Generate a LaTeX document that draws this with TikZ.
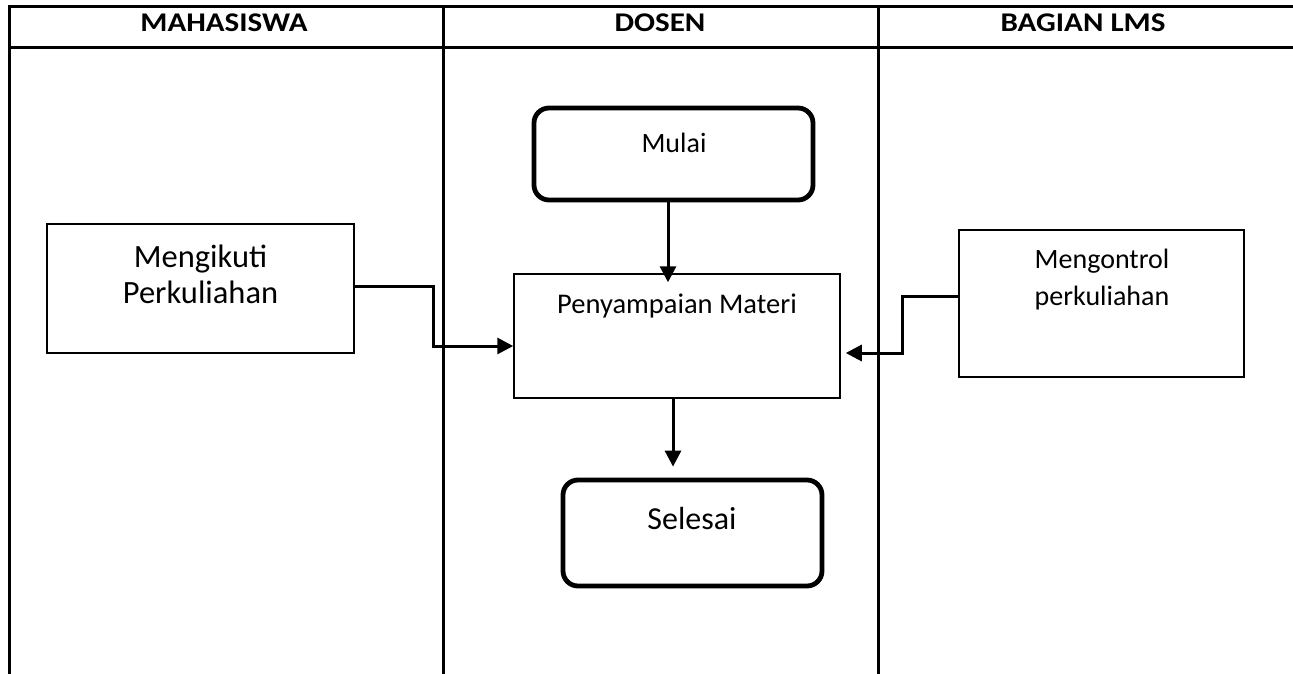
\documentclass[tikz,border=0pt]{standalone}
\usepackage{fontspec}
\setmainfont{Carlito}
\newfontfamily\hdrfont{Carlito}[FakeStretch=1.15]
\usetikzlibrary{arrows.meta}
\begin{document}
\begin{tikzpicture}[x=1pt,y=-1pt,
  grid/.style={line width=3pt, line cap=rect},
  plainbox/.style={draw, line width=1.5pt, inner sep=0pt},
  roundbox/.style={draw, line width=4.8pt, rounded corners=15pt, inner sep=0pt},
  hdr/.style={font=\hdrfont\fontsize{27}{30}\selectfont\bfseries, inner sep=0pt, anchor=base},
  txt/.style={inner sep=0pt, anchor=base, align=center},
  arr/.style={line width=3pt, -{Triangle[length=16pt,width=16pt]}}]
\useasboundingbox (0,0) rectangle (1293,674);
% table grid
\coordinate (tl) at (9.5,6.5);
\coordinate (tr) at (1295,6.5);
\coordinate (hl) at (9.5,47.5);
\coordinate (hr) at (1295,47.5);
\coordinate (bl) at (9.5,676);
\coordinate (c1t) at (443.5,6.5);
\coordinate (c1b) at (443.5,676);
\coordinate (c2t) at (878.5,6.5);
\coordinate (c2b) at (878.5,676);
\draw[grid] (tl) -- (tr);
\draw[grid] (hl) -- (hr);
\draw[grid] (tl) -- (bl);
\draw[grid] (c1t) -- (c1b);
\draw[grid] (c2t) -- (c2b);
% headers
\node[hdr] (h1) at (224,32) {MAHASISWA};
\node[hdr] (h2) at (660,32) {DOSEN};
\node[hdr] (h3) at (1083,32) {BAGIAN LMS};
% boxes
\node[plainbox, minimum width=307pt, minimum height=129pt] (ikut) at (200.5,288.5) {};
\node[txt, font=\fontsize{32.5}{36}\selectfont] (ikutT) at (200.5,303) {Mengikuti\\Perkuliahan};
\node[plainbox, minimum width=326pt, minimum height=124pt] (materi) at (677,336) {};
\node[txt, font=\fontsize{28.5}{32}\selectfont] (materiT) at (677,313) {Penyampaian Materi};
\node[plainbox, minimum width=285pt, minimum height=147pt] (kontrol) at (1101.5,303.5) {};
\node[txt, font=\fontsize{28}{37}\selectfont] (kontrolT) at (1102,305) {Mengontrol\\perkuliahan};
\node[roundbox, minimum width=279pt, minimum height=92pt] (mulai) at (673.5,154) {};
\node[txt, font=\fontsize{28}{32}\selectfont] (mulaiT) at (674,153) {Mulai};
\node[roundbox, minimum width=259pt, minimum height=106pt] (selesai) at (692.5,533) {};
\node[txt, font=\fontsize{32}{36}\selectfont] (selesaiT) at (692,529) {Selesai};
% connectors
\coordinate (a1) at (668,0);
\coordinate (a2) at (673,0);
\draw[arr] (mulai.south -| a1) -- ([yshift=-9pt]materi.north -| a1);
\draw[arr] (materi.south -| a2) -- ([yshift=11pt]selesai.north -| a2);
\coordinate (j1) at (433,286);
\coordinate (j2) at (433,346);
\draw[arr] (ikut.east |- j1) -- (j1) -- (j2) -- (materi.west |- j2);
\coordinate (k1) at (902,296);
\coordinate (k2) at (902,353);
\draw[arr] (kontrol.west |- k1) -- (k1) -- (k2) -- ([xshift=5pt]materi.east |- k2);
\end{tikzpicture}
\end{document}
